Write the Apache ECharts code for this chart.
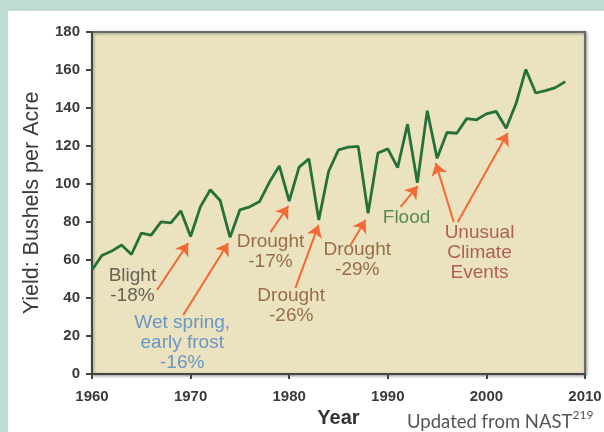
<!DOCTYPE html>
<html><head><meta charset="utf-8">
<script src="https://cdn.jsdelivr.net/npm/echarts@6/dist/echarts.min.js"></script>
<style>
html,body{margin:0;padding:0;background:#bfdcd4;width:604px;height:432px;overflow:hidden;}
#wrap{position:absolute;left:8px;top:11px;width:596px;height:421px;background:#ffffff;}
#chart{width:596px;height:421px;}
</style></head><body><div id="wrap"><div id="chart"></div></div>
<script>
const years = [1960,1961,1962,1963,1964,1965,1966,1967,1968,1969,1970,1971,1972,1973,1974,1975,1976,1977,1978,1979,1980,1981,1982,1983,1984,1985,1986,1987,1988,1989,1990,1991,1992,1993,1994,1995,1996,1997,1998,1999,2000,2001,2002,2003,2004,2005,2006,2007,2008];
const yields = [54.7,62.4,64.7,67.9,62.9,74.1,73.1,80.1,79.5,85.9,72.4,88.1,97.0,91.3,71.9,86.4,88.0,90.8,101.0,109.5,91.0,108.9,113.2,81.1,106.7,118.0,119.4,119.8,84.6,116.3,118.5,108.6,131.5,100.7,138.6,113.5,127.1,126.7,134.4,133.8,136.9,138.2,129.3,142.2,160.3,147.9,149.1,150.7,153.9];

const noteTexts = ['Blight\n-18%', 'Wet spring,\nearly frost\n-16%', 'Drought\n-17%', 'Drought\n-26%', 'Drought\n-29%', 'Flood', 'Unusual\nClimate\nEvents'];
const noteX = [1964.1, 1969.15, 1978.1, 1980.2, 1986.9, 1991.9, 1999.3];
const noteY = [46.6, 16.3, 64.2, 35.8, 60.0, 82.1, 63.7];
const noteColors = ['#45413a', '#4a82c6', '#82502a', '#82502a', '#82502a', '#317539', '#a03f35'];

const arrowFrom = [[1966.6,44.2],[1969.25,31.0],[1978.1,74.7],[1980.63,45.3],[1986.22,67.9],[1991.3,87.9],[1996.69,80.0],[1997.09,80.0]];
const arrowTo = [[1969.76,68.9],[1973.82,68.9],[1979.92,88.4],[1982.97,78.4],[1987.74,81.05],[1993.03,98.9],[1994.86,111.0],[2002.17,126.8]];

const chart = echarts.init(document.getElementById('chart'), null, {renderer: 'canvas'});
const FONT = '"Liberation Sans", Arial, Helvetica, sans-serif';

chart.setOption({
  animation: false,
  backgroundColor: '#ffffff',
  grid: {
    left: 84, top: 21, right: 19, bottom: 58,
    outerBoundsMode: 'none',
    show: true,
    backgroundColor: '#ebe3bf',
    borderColor: '#6a6a6a',
    borderWidth: 2,
    shadowColor: 'rgba(0,0,0,0.35)',
    shadowBlur: 3,
    shadowOffsetX: 1,
    shadowOffsetY: 1
  },
  xAxis: {
    type: 'value', min: 1960, max: 2010, interval: 10,
    name: 'Year', nameLocation: 'middle', nameGap: 32,
    nameTextStyle: {fontFamily: FONT, fontSize: 20, fontWeight: 'bold', color: '#333'},
    axisLine: {show: true, lineStyle: {color: '#444', width: 2}},
    axisTick: {show: true, length: 5, lineStyle: {color: '#444', width: 2}},
    axisLabel: {fontFamily: FONT, fontSize: 15, fontWeight: 'bold', color: '#3a3a3a', margin: 15, formatter: v => String(v)},
    splitLine: {show: false}
  },
  yAxis: {
    type: 'value', min: 0, max: 180, interval: 20,
    name: 'Yield: Bushels per Acre', nameLocation: 'middle', nameGap: 49,
    nameTextStyle: {fontFamily: FONT, fontSize: 21.5, color: '#3a3a3a'},
    axisLine: {show: true, lineStyle: {color: '#444', width: 2}},
    axisTick: {show: true, length: 6, lineStyle: {color: '#444', width: 2}},
    axisLabel: {fontFamily: FONT, fontSize: 15, fontWeight: 'bold', color: '#3a3a3a', margin: 12},
    splitLine: {show: false}
  },
  series: [
    {
      type: 'line',
      data: years.map((y, i) => [y, yields[i]]),
      showSymbol: false,
      lineStyle: {color: '#26703a', width: 2.8},
      z: 3
    },
    {
      type: 'lines',
      coordinateSystem: 'cartesian2d',
      symbol: ['none', 'arrow'],
      symbolSize: 12,
      lineStyle: {color: '#f26a35', width: 2, opacity: 1, curveness: 0},
      data: arrowFrom.map((f, i) => ({coords: [f, arrowTo[i]]})),
      z: 4
    },
    {
      type: 'scatter',
      symbolSize: 0,
      silent: true,
      data: noteTexts.map((t, i) => ({
        value: [noteX[i], noteY[i]],
        label: {
          show: true, position: 'inside', formatter: t,
          color: noteColors[i], fontFamily: FONT, fontSize: 19, lineHeight: 20, align: 'center'
        }
      })),
      z: 5
    }
  ],
  graphic: [
    {
      type: 'text', left: 399, top: 398,
      style: {
        text: '{a|Updated from NAST}{b|219}',
        rich: {
          a: {fontFamily: 'Lato, "Open Sans", sans-serif', fontSize: 18.5, fill: '#555', verticalAlign: 'bottom'},
          b: {fontFamily: 'Lato, "Open Sans", sans-serif', fontSize: 12, fill: '#555', verticalAlign: 'top', padding: [0,0,11,0]}
        }
      }
    }
  ]
});
</script></body></html>
